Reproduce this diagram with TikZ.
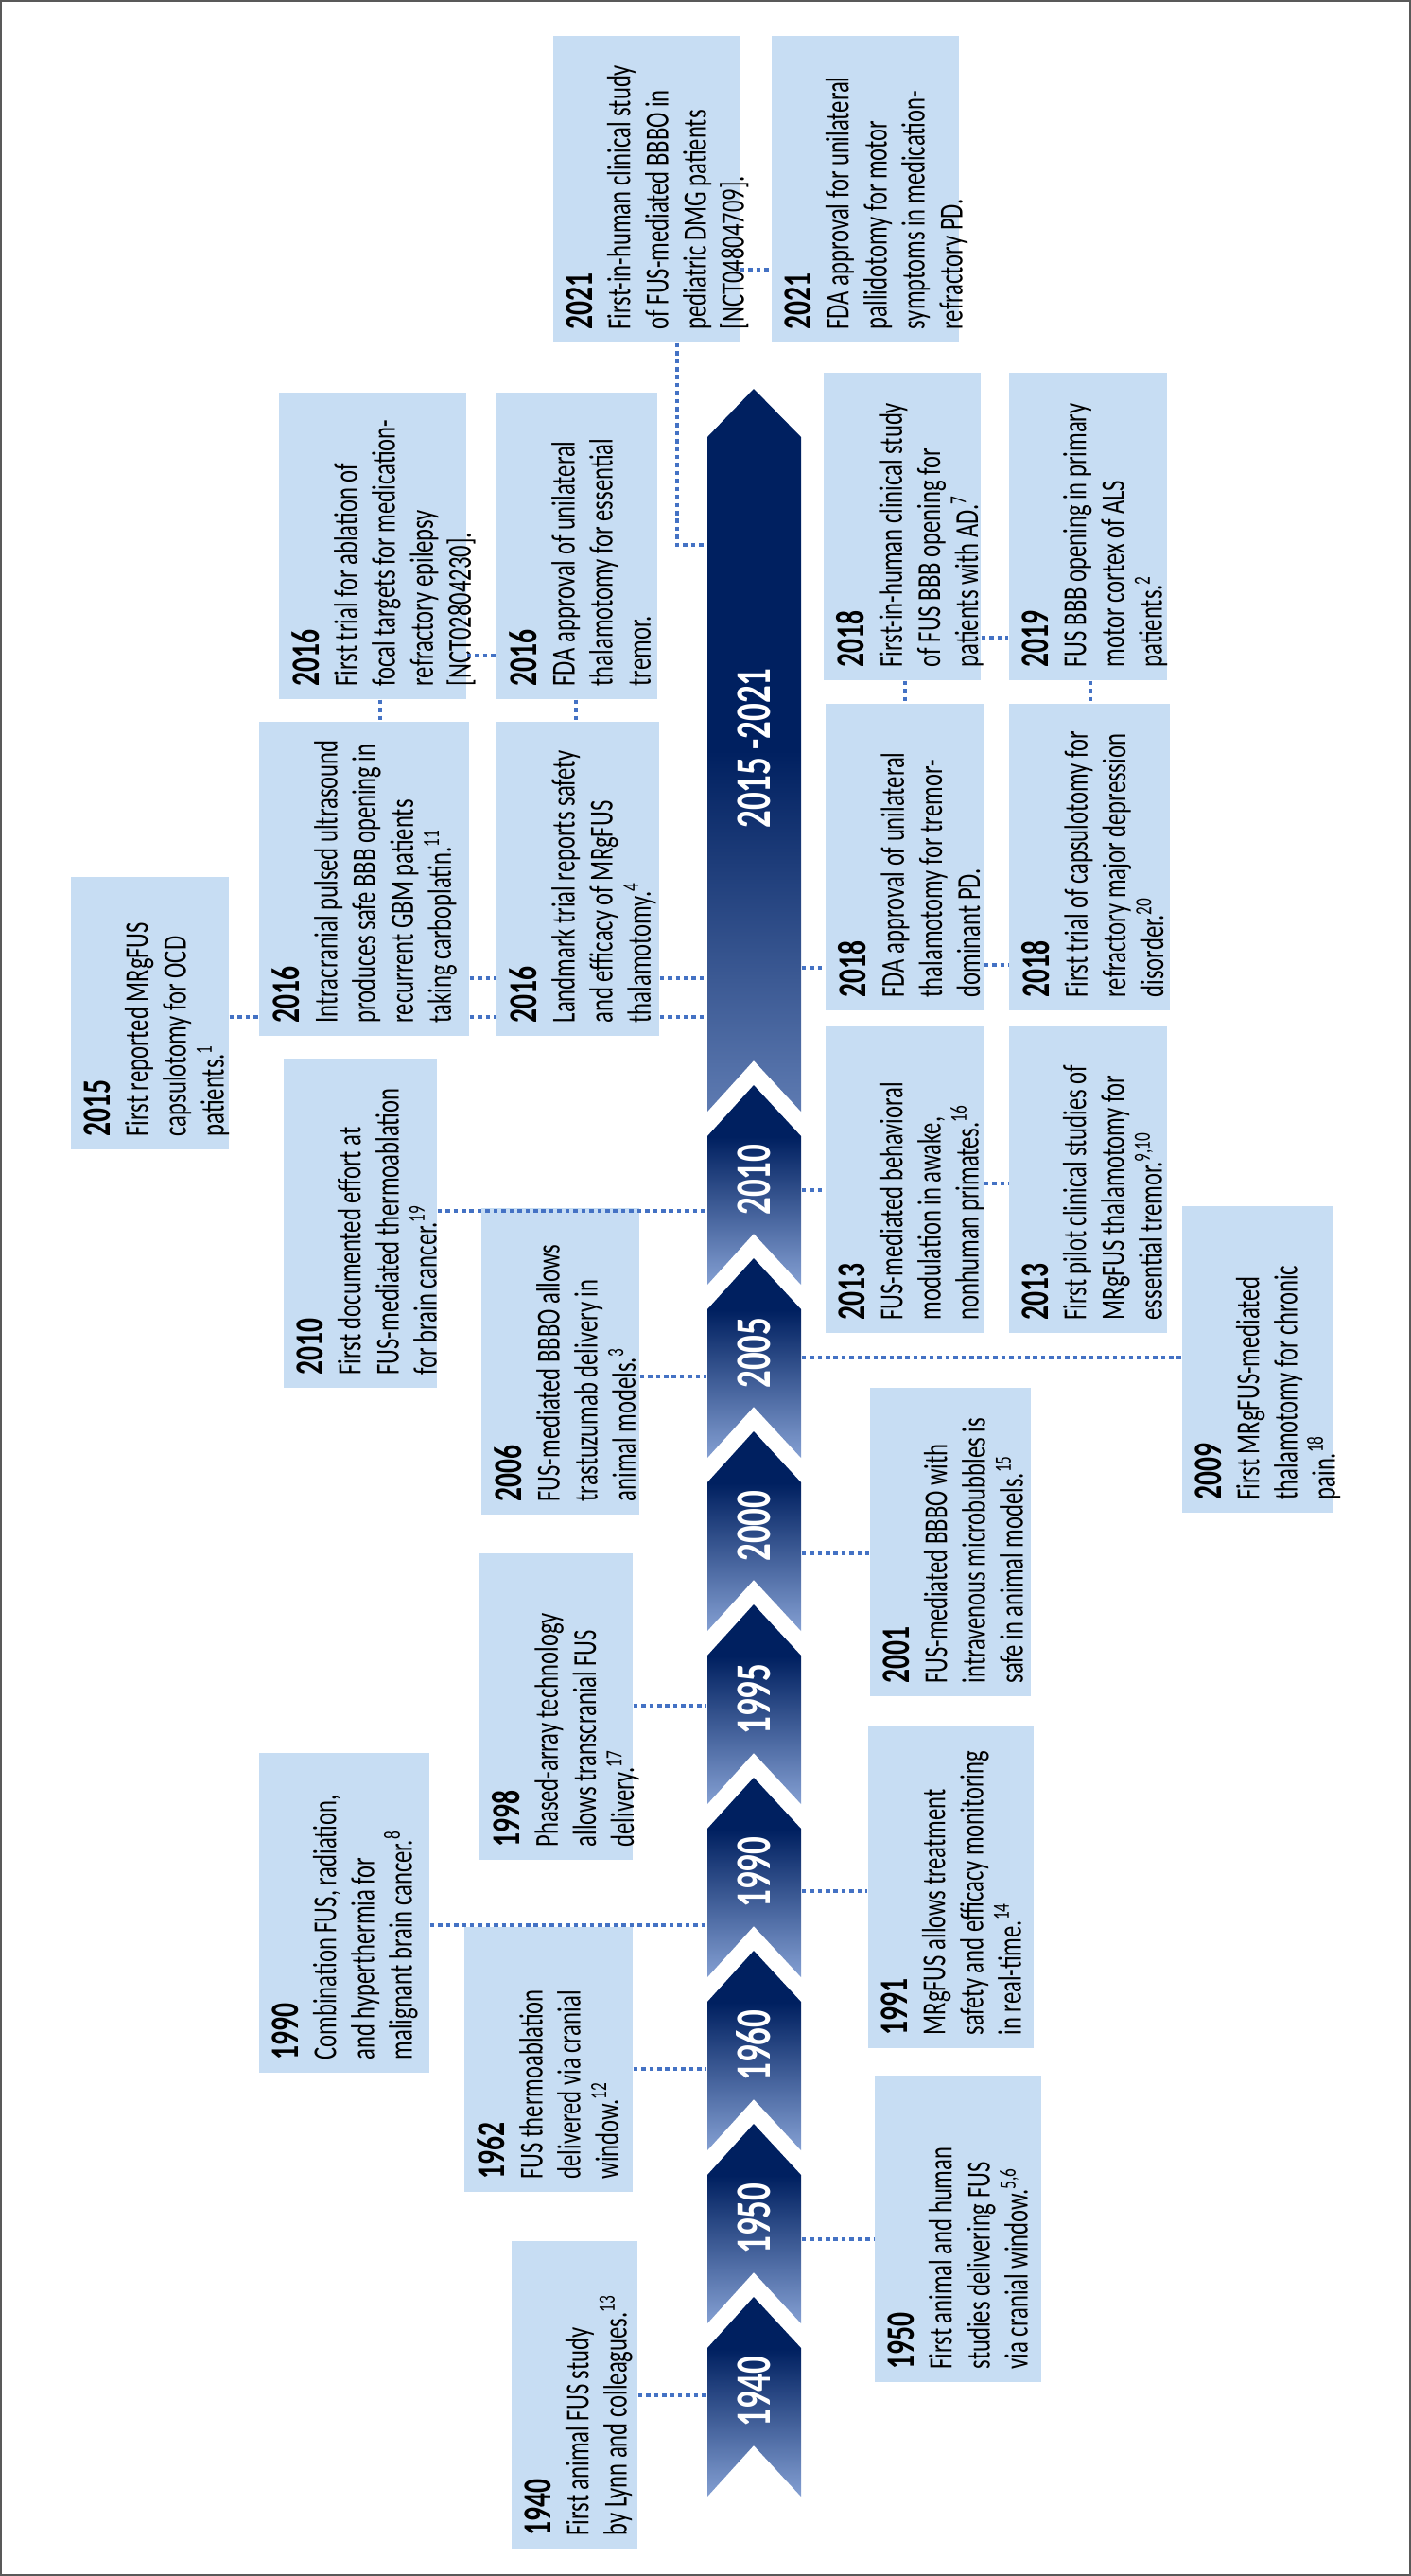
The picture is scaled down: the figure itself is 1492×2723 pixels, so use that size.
\documentclass[tikz,border=0pt]{standalone}
\usepackage{fontspec}
\usetikzlibrary{fit}
\newfontfamily\bxfont[FakeStretch=0.7]{Carlito}
\definecolor{nv}{RGB}{0,32,96}
\definecolor{lt}{RGB}{143,170,220}
\definecolor{bxc}{RGB}{199,221,243}
\definecolor{cn}{RGB}{68,114,196}
\pgfdeclareverticalshading{chev}{100bp}{color(0bp)=(lt); color(22bp)=(lt); color(62bp)=(nv); color(100bp)=(nv)}
\pgfdeclareverticalshading{bigarr}{100bp}{color(0bp)=(lt); color(12bp)=(lt); color(50bp)=(nv); color(100bp)=(nv)}
\tikzset{
  box/.style={fill=bxc, draw=none, inner sep=0pt},
  txt/.style={rotate=90, anchor=north west, align=left, inner sep=0pt, font=\bxfont\fontsize{10}{11.4}\selectfont},
  yr/.style={rotate=90, text=white, font=\bxfont\fontsize{15}{16}\selectfont\bfseries, inner sep=0pt},
  con/.style={draw=cn, line width=1.4pt, dash pattern=on 1.3pt off 1.1pt},
}
\newcommand\evbox[7]{%
  \node[box, fit={(#2,#4) (#3,#5)}] (#1) {};
  \node[txt] (#1t) at ({#2+13},{#5-13}) {{\fontsize{12}{13}\selectfont\bfseries #6}\\#7};
}
\newcommand\chevron[3]{%
  \path[shading=chev] (748,{#1+54}) -- (797,#1) -- (847,{#1+54}) -- (847,{#1+211}) -- (797,{#1+157}) -- (748,{#1+211}) -- cycle;
  \node[yr] (#2) at (797,{#1+100}) {#3};
}
\begin{document}
\begin{tikzpicture}[x=0.01cm,y=-0.01cm]
\useasboundingbox (0,0) rectangle (1492,2723);
\draw[gray!70!black, line width=0.6pt] (1,1) rectangle (1491,2722);
% timeline
\path[shading=bigarr] (748,462) -- (797,411) -- (847,462) -- (847,1175) -- (797,1121) -- (748,1175) -- cycle;
\node[yr] (y15) at (797,791) {2015 -2021};
\chevron{1147}{y10}{2010}
\chevron{1330}{y05}{2005}
\chevron{1513}{y00}{2000}
\chevron{1696}{y95}{1995}
\chevron{1879}{y90}{1990}
\chevron{2062}{y60}{1960}
\chevron{2245}{y50}{1950}
\chevron{2428}{y40}{1940}
\node[fit={(748,411) (847,2638)}, inner sep=0pt] (spine) {};
% boxes
\evbox{b21a}{585}{782}{38}{362}{2021}{First-in-human clinical study\\of FUS-mediated BBBO in\\pediatric DMG patients\\{[NCT04804709]}.}
\evbox{b21b}{816}{1014}{38}{362}{2021}{FDA approval for unilateral\\pallidotomy for motor\\symptoms in medication-\\refractory PD.}
\evbox{b16a}{295}{493}{415}{739}{2016}{First trial for ablation of\\focal targets for medication-\\refractory epilepsy\\{[NCT02804230]}.}
\evbox{b16b}{525}{695}{415}{739}{2016}{FDA approval of unilateral\\thalamotomy for essential\\tremor.}
\evbox{b16c}{274}{496}{763}{1095}{2016}{Intracranial pulsed ultrasound\\produces safe BBB opening in\\recurrent GBM patients\\taking carboplatin.\textsuperscript{11}}
\evbox{b16d}{525}{697}{763}{1095}{2016}{Landmark trial reports safety\\and efficacy of MRgFUS\\thalamotomy.\textsuperscript{4}}
\evbox{b18a}{871}{1037}{394}{719}{2018}{First-in-human clinical study\\of FUS BBB opening for\\patients with AD.\textsuperscript{7}}
\evbox{b19}{1067}{1234}{394}{719}{2019}{FUS BBB opening in primary\\motor cortex of ALS\\patients.\textsuperscript{2}}
\evbox{b18c}{873}{1040}{744}{1068}{2018}{FDA approval of unilateral\\thalamotomy for tremor-\\dominant PD.}
\evbox{b18d}{1067}{1237}{744}{1068}{2018}{First trial of capsulotomy for\\refractory major depression\\disorder.\textsuperscript{20}}
\evbox{b15}{75}{242}{927}{1215}{2015}{First reported MRgFUS\\capsulotomy for OCD\\patients.\textsuperscript{1}}
\evbox{b10}{300}{462}{1119}{1467}{2010}{First documented effort at\\FUS-mediated thermoablation\\for brain cancer.\textsuperscript{19}}
\evbox{b06}{509}{676}{1277}{1601}{2006}{FUS-mediated BBBO allows\\trastuzumab delivery in\\animal models.\textsuperscript{3}}
\evbox{b13a}{873}{1040}{1085}{1409}{2013}{FUS-mediated behavioral\\modulation in awake,\\nonhuman primates.\textsuperscript{16}}
\evbox{b13b}{1067}{1234}{1085}{1409}{2013}{First pilot clinical studies of\\MRgFUS thalamotomy for\\essential tremor.\textsuperscript{9,10}}
\evbox{b09}{1250}{1409}{1275}{1599}{2009}{First MRgFUS-mediated\\thalamotomy for chronic\\pain.\textsuperscript{18}}
\evbox{b01}{920}{1090}{1467}{1793}{2001}{FUS-mediated BBBO with\\intravenous microbubbles is\\safe in animal models.\textsuperscript{15}}
\evbox{b98}{507}{669}{1642}{1966}{1998}{Phased-array technology\\allows transcranial FUS\\delivery.\textsuperscript{17}}
\evbox{b91}{918}{1093}{1825}{2165}{1991}{MRgFUS allows treatment\\safety and efficacy monitoring\\in real-time.\textsuperscript{14}}
\evbox{b90}{274}{454}{1853}{2191}{1990}{Combination FUS, radiation,\\and hyperthermia for\\malignant brain cancer.\textsuperscript{8}}
\evbox{b62}{491}{669}{2037}{2317}{1962}{FUS thermoablation\\delivered via cranial\\window.\textsuperscript{12}}
\evbox{b50}{925}{1101}{2194}{2518}{1950}{First animal and human\\studies delivering FUS\\via cranial window.\textsuperscript{5,6}}
\evbox{b40}{541}{674}{2369}{2694}{1940}{First animal FUS study\\by Lynn and colleagues.\textsuperscript{13}}
% connectors
\draw[con] (b21a.east |- 0,285) -- (b21b.west |- 0,285);
\draw[con] (b21a.south -| 716,0) -- (716,576) -- (spine.west |- 0,576);
\draw[con] (b16a.east |- 0,693) -- (b16b.west |- 0,693);
\draw[con] (b16a.south -| 402,0) -- (b16c.north -| 402,0);
\draw[con] (b16b.south -| 609,0) -- (b16d.north -| 609,0);
\draw[con] (b15.east |- 0,1075) -- (b16c.west |- 0,1075);
\draw[con] (b16c.east |- 0,1034) -- (b16d.west |- 0,1034);
\draw[con] (b16c.east |- 0,1075) -- (b16d.west |- 0,1075);
\draw[con] (b16d.east |- 0,1034) -- (spine.west |- 0,1034);
\draw[con] (b16d.east |- 0,1075) -- (spine.west |- 0,1075);
\draw[con] (b18a.east |- 0,674) -- (b19.west |- 0,674);
\draw[con] (b18a.south -| 957,0) -- (b18c.north -| 957,0);
\draw[con] (b19.south -| 1153,0) -- (b18d.north -| 1153,0);
\draw[con] (spine.east |- 0,1023) -- (b18c.west |- 0,1023);
\draw[con] (b18c.east |- 0,1020) -- (b18d.west |- 0,1020);
\draw[con] (b10.east |- 0,1280) -- (spine.west |- 0,1280);
\draw[con] (b06.east |- 0,1455) -- (spine.west |- 0,1455);
\draw[con] (spine.east |- 0,1258) -- (b13a.west |- 0,1258);
\draw[con] (b13a.east |- 0,1251) -- (b13b.west |- 0,1251);
\draw[con] (spine.east |- 0,1435) -- (b09.west |- 0,1435);
\draw[con] (spine.east |- 0,1642) -- (b01.west |- 0,1642);
\draw[con] (b98.east |- 0,1803) -- (spine.west |- 0,1803);
\draw[con] (spine.east |- 0,1999) -- (b91.west |- 0,1999);
\draw[con] (b90.east |- 0,2035) -- (spine.west |- 0,2035);
\draw[con] (b62.east |- 0,2187) -- (spine.west |- 0,2187);
\draw[con] (spine.east |- 0,2367) -- (b50.west |- 0,2367);
\draw[con] (b40.east |- 0,2532) -- (spine.west |- 0,2532);
\end{tikzpicture}
\end{document}
